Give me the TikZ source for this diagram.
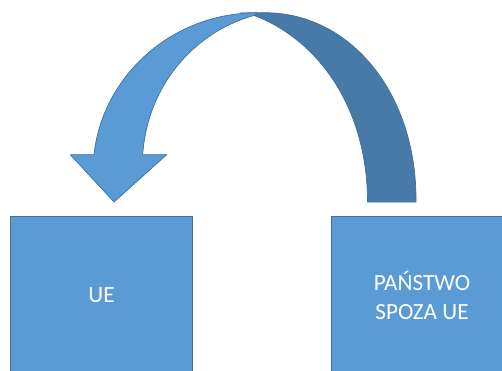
\documentclass[tikz,border=0pt]{standalone}
\usepackage{fontspec}
\setmainfont{Carlito}
\usepackage{tikz}
\usetikzlibrary{positioning}
\definecolor{BoxBlue}{RGB}{91,155,213}
\definecolor{EdgeBlue}{RGB}{65,113,156}
\definecolor{BackBlue}{RGB}{71,122,167}
\tikzset{
    country/.style={draw=EdgeBlue, line width=0.6pt, fill=BoxBlue, text=white,
        minimum width=3.63cm, minimum height=3.18cm, inner sep=0pt, align=center,
        font=\fontsize{13.2}{16.1}\selectfont},
    band/.style={draw=EdgeBlue, line width=0.4pt, line join=round}
}

\begin{document}
\begin{tikzpicture}[x=0.02cm, y=-0.02cm]
    \clip (0,0) rectangle (502,370);
    \node[country] (ue) at (101.5,295.5) {UE};
    \node[country, right=2.76cm of ue] (poza) {PAŃSTWO\\SPOZA UE};
    % back half of the curved arrow
    \draw[band, fill=BackBlue]
        (416,202) .. controls (417,93) and (350,12.7) .. (265,12.7)
        -- (240,12.9) -- (253,15)
        .. controls (320,40) and (367.5,110) .. (367.5,202)
        -- cycle;
    % front half with the head
    \draw[band, fill=BoxBlue]
        (70.3,154.7) -- (94,154.7)
        .. controls (102,78) and (170,12.8) .. (257,12.8)
        -- (254,15.5)
        .. controls (200,30) and (148,80) .. (142.7,154.7)
        -- (166.7,154.7) -- (114,202) -- cycle;
\end{tikzpicture}
\end{document}
